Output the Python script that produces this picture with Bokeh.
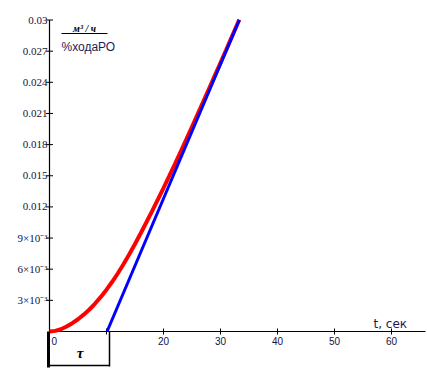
import math
from bokeh.plotting import figure
from bokeh.models import Range1d
from bokeh.core.properties import value
from bokeh.embed import file_html
from bokeh.resources import INLINE

# ---- data ----
tau = 10
t_red = [0, 1, 2, 3, 4, 5, 6, 7, 8, 9, 10, 11, 12, 13, 14, 15, 16, 17, 18,
         19, 20, 21, 22, 23, 24, 25, 26, 27, 28, 29, 30, 31, 32, 33, 33.3]
q_red = [0.0, 0.00006, 0.00022, 0.00048, 0.0008, 0.00118, 0.00162, 0.00212,
         0.00269, 0.00333, 0.00403, 0.00479, 0.00561, 0.0065, 0.00744,
         0.00843, 0.00946, 0.01052, 0.0116, 0.0127, 0.01382, 0.01496,
         0.01612, 0.0173, 0.0185, 0.01971, 0.02093, 0.02216, 0.0234,
         0.02464, 0.02589, 0.02714, 0.0284, 0.02966, 0.03004]
t_blue = [10.1, 33.3]
q_blue = [0.0, 0.030]

y_ticks = [0.003, 0.006, 0.009, 0.012, 0.015, 0.018, 0.021, 0.024, 0.027, 0.03]
y_tick_labels = ["3×10⁻³", "6×10⁻³", "9×10⁻³", "0.012", "0.015", "0.018",
                 "0.021", "0.024", "0.027", "0.03"]
x_ticks = [10, 20, 30, 40, 50, 60]
x_tick_labels = ["", "20", "30", "40", "50", "60"]

# ---- geometry ----
W, H = 427, 377
X0, PX_T = 49, 5.7          # image x of t=0, pixels per second
Y0, PX_V = 331, 10383.0     # image y of q=0, pixels per unit

def dx(px):
    return px / PX_T

def dy(px):
    return px / PX_V

x_start = -X0 / PX_T
x_end = (W - X0) / PX_T
y_start = -(H - Y0) / PX_V
y_end = Y0 / PX_V

p = figure(width=W, height=H, output_backend="svg", toolbar_location=None,
           x_range=Range1d(x_start, x_end), y_range=Range1d(y_start, y_end),
           min_border=0, tools="")
p.axis.visible = False
p.grid.visible = False
p.outline_line_color = None
p.background_fill_color = "white"
p.border_fill_color = "white"

# axes
p.segment(x0=[0], y0=[0], x1=[dx(425 - X0)], y1=[0], line_color="black", line_width=1.2)
p.segment(x0=[0], y0=[0], x1=[0], y1=[max(y_ticks)], line_color="black", line_width=1.2)

# ticks
p.scatter(x=[0] * len(y_ticks), y=y_ticks, marker="dash", size=7,
          line_color="black", line_width=1)
p.scatter(x=x_ticks, y=[0] * len(x_ticks), marker="dash", angle=math.pi / 2,
          size=6, line_color="black", line_width=1)

# tick labels
p.text(x=[0] * len(y_ticks), y=y_ticks, text=y_tick_labels, x_offset=-2,
       text_align="right", text_baseline="middle",
       text_font=value("Liberation Serif"), text_font_size="11px",
       text_color="#14143c")
p.text(x=x_ticks, y=[0] * len(x_ticks), text=x_tick_labels, y_offset=5,
       text_align="center", text_baseline="top",
       text_font=value("Liberation Sans"), text_font_size="10px",
       text_color="#14143c")
p.text(x=[0], y=[0], text=["0"], x_offset=2, y_offset=5,
       text_align="left", text_baseline="top",
       text_font=value("Liberation Sans"), text_font_size="10px",
       text_color="#14143c")

# curves
p.line(t_red, q_red, line_color="#ff0000", line_width=4)
p.line(t_blue, q_blue, line_color="#0000ff", line_width=3)

# tau box
box_r = tau + dx(3)
box_b = -dy(34)
p.segment(x0=[dx(-1)], y0=[0], x1=[dx(-1)], y1=[-dy(36)], line_color="black", line_width=3)
p.segment(x0=[box_r], y0=[0], x1=[box_r], y1=[box_b - dy(1)], line_color="black", line_width=1.5)
p.segment(x0=[0], y0=[box_b], x1=[box_r], y1=[box_b], line_color="black", line_width=1.5)
p.text(x=[tau / 2 + dx(2)], y=[-dy(21)], text=["τ"], text_align="center",
       text_baseline="middle", text_font=value("Liberation Serif"),
       text_font_size="15px", text_font_style="bold italic", text_color="black")

# axis titles
p.text(x=[dx(373 - X0)], y=[dy(Y0 - 323)], text=["t, сек"], text_align="left",
       text_baseline="alphabetic", text_font=value("DejaVu Sans"),
       text_font_size="12px", text_color="#1c1c50")
p.text(x=[dx(84 - X0)], y=[dy(Y0 - 28)], text=["м³ / ч"], text_align="center",
       text_baseline="alphabetic", text_font=value("Liberation Serif"),
       text_font_size="10px", text_font_style="bold italic", text_color="black")
p.segment(x0=[dx(61 - X0)], y0=[dy(Y0 - 33)], x1=[dx(107 - X0)], y1=[dy(Y0 - 33)],
          line_color="black", line_width=1)
p.text(x=[dx(61 - X0)], y=[dy(Y0 - 46)], text=["%ходаРО"], text_align="left",
       text_baseline="alphabetic", text_font=value("Liberation Sans"),
       text_font_size="12px", text_color="#1c1c5c")

open("out.html", "w").write(file_html(p, INLINE))
